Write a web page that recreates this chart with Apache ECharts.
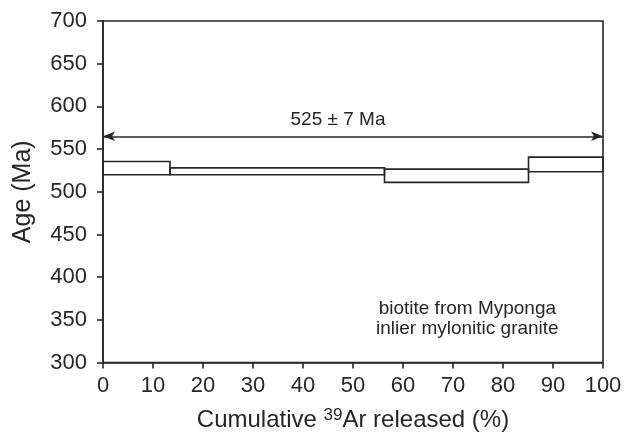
<!DOCTYPE html>
<html>
<head>
<meta charset="utf-8">
<script src="https://cdn.jsdelivr.net/npm/echarts@6/dist/echarts.min.js"></script>
<style>
html,body{margin:0;padding:0;background:#fff;}
#chart{width:631px;height:437px;}
</style>
</head>
<body>
<div id="chart"></div>
<script>
// Step data: cumulative 39Ar start, end (%), age low, age high (Ma)
var stepStart = [0, 13.4, 56.3, 85.1];
var stepEnd   = [13.4, 56.3, 85.1, 100];
var ageLow    = [520, 520, 511, 523.5];
var ageHigh   = [535.5, 528, 526.5, 540.5];
var plateauAge = 565;
var plateauLabel = '525 \u00b1 7 Ma';
var sampleNote = 'biotite from Myponga\ninlier mylonitic granite';

var txt = '#262626';
var ln = '#262626';
var font = 'Liberation Sans, Arial, Helvetica, sans-serif';

var boxes = stepStart.map(function (s, i) { return [s, stepEnd[i], ageLow[i], ageHigh[i]]; });

var chart = echarts.init(document.getElementById('chart'));
chart.setOption({
  animation: false,
  backgroundColor: '#fff',
  grid: { left: 103, right: 28, top: 21, bottom: 74, show: true, borderColor: ln, borderWidth: 1.6, backgroundColor: 'transparent' },
  xAxis: {
    type: 'value', min: 0, max: 100, interval: 10,
    axisLine: { show: true, lineStyle: { color: ln, width: 1.6 } },
    axisTick: { show: true, length: 6, lineStyle: { color: ln, width: 1.6 } },
    axisLabel: { color: txt, fontSize: 22, fontFamily: font, margin: 12 },
    splitLine: { show: false },
    name: '{a|Cumulative }{s|39}{a|Ar released (%)}',
    nameLocation: 'middle', nameGap: 44,
    nameTextStyle: {
      color: txt, fontFamily: font, fontSize: 24,
      rich: {
        a: { fontSize: 24, color: txt, fontFamily: font },
        s: { fontSize: 17, color: txt, fontFamily: font, verticalAlign: 'top', padding: [0, 0, 10, 0] }
      }
    }
  },
  yAxis: {
    type: 'value', min: 300, max: 700, interval: 50,
    axisLine: { show: true, lineStyle: { color: ln, width: 1.6 } },
    axisTick: { show: true, length: 6, lineStyle: { color: ln, width: 1.6 } },
    axisLabel: { color: txt, fontSize: 22, fontFamily: font, margin: 16 },
    splitLine: { show: false },
    name: 'Age (Ma)', nameLocation: 'middle', nameGap: 67,
    nameTextStyle: { color: txt, fontFamily: font, fontSize: 25 }
  },
  series: [
    {
      type: 'custom',
      data: boxes,
      renderItem: function (params, api) {
        var p0 = api.coord([api.value(0), api.value(3)]);
        var p1 = api.coord([api.value(1), api.value(2)]);
        return {
          type: 'rect',
          shape: { x: p0[0], y: p0[1], width: p1[0] - p0[0], height: p1[1] - p0[1] },
          style: { fill: 'none', stroke: ln, lineWidth: 1.6 }
        };
      },
      encode: { x: [0, 1], y: [2, 3] },
      silent: true
    },
    {
      type: 'line',
      data: [],
      silent: true,
      markLine: {
        silent: true,
        symbol: ['arrow', 'arrow'],
        symbolSize: [7, 12],
        lineStyle: { color: ln, width: 1.5, type: 'solid' },
        label: { show: true, position: 'middle', formatter: plateauLabel, color: txt, fontSize: 19, fontFamily: font, distance: 7, offset: [-15, 0] },
        data: [[{ coord: [0, plateauAge] }, { coord: [100, plateauAge] }]]
      }
    }
  ],
  graphic: [{
    type: 'text',
    left: 376, top: 299,
    style: { text: sampleNote, fill: txt, font: '19px ' + font, textAlign: 'center', lineHeight: 20, width: 180 }
  }]
});
</script>
</body>
</html>
